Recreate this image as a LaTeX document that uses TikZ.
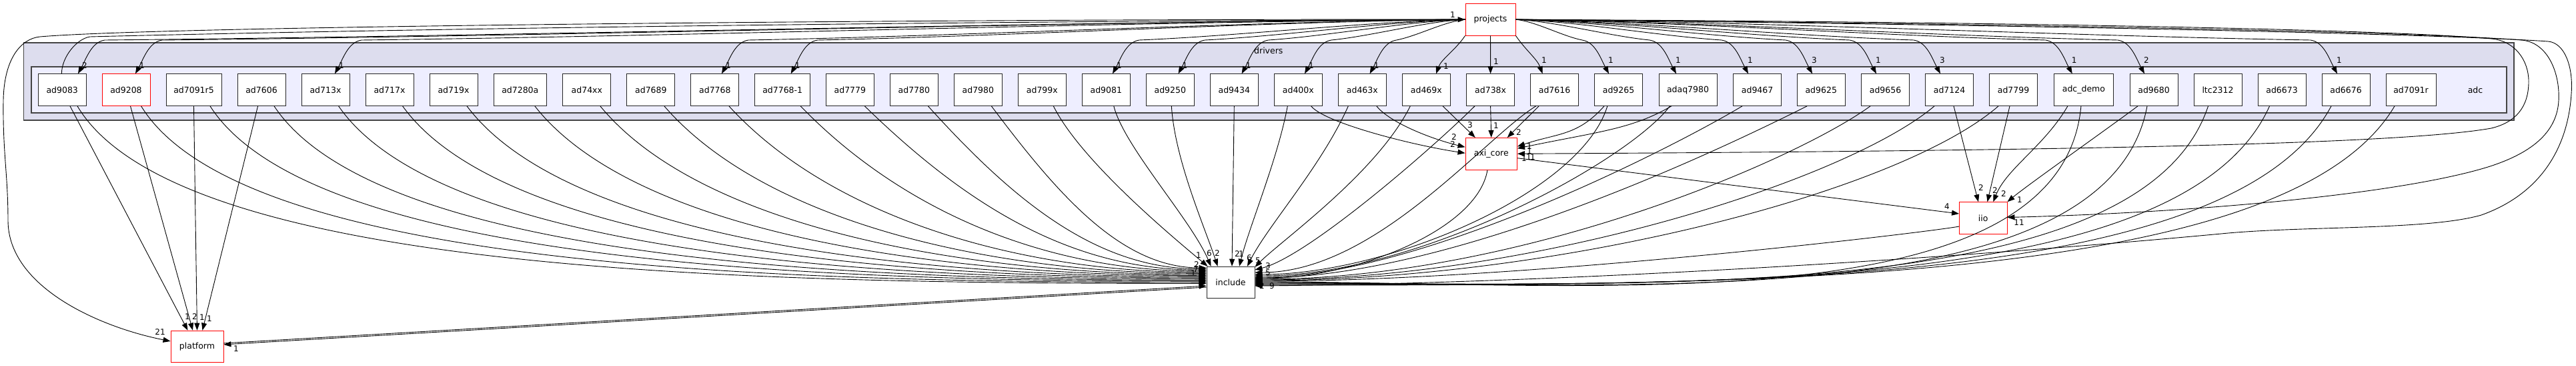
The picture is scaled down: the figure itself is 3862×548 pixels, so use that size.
\documentclass[tikz,border=0pt]{standalone}
\usepackage{fontspec}
\setmainfont{DejaVu Sans}
\usetikzlibrary{arrows.meta}
\definecolor{clouter}{HTML}{DDDDEE}
\definecolor{clinner}{HTML}{EEEEFF}
\definecolor{clborder}{HTML}{444444}
\begin{document}
\begin{tikzpicture}[x=1pt,y=-1pt,
  box/.style={draw=black!85, line width=0.9pt, fill=white, minimum width=72pt, minimum height=47.6pt, inner sep=0pt, font=\fontsize{12.5}{14}\selectfont},
  rbox/.style={box, draw=red},
  dep/.style={draw=black, line width=0.9pt, -{Triangle[length=11pt,width=8pt]}},
  lbl/.style={font=\fontsize{12}{13}\selectfont, inner sep=0pt},
  cltext/.style={font=\fontsize{12.5}{14}\selectfont, inner sep=0pt},
  clusterout/.style={fill=clouter, draw=clborder, line width=1.5pt},
  clusterin/.style={fill=clinner, draw=clborder, line width=1.5pt}]
\useasboundingbox (0,0) rectangle (3862,548);

% clusters
\draw[clusterout] (35.7,64) rectangle (3769,180);
\draw[clusterin] (47,100) rectangle (3758,169);
\node[cltext] (drivers) at (1901.8,75.5) {drivers};
\node[cltext] (adc) at (3711,134.6) {adc};

% adc nodes
\node[box] (ad9083) at (93.25,134.6) {ad9083};
\node[rbox] (ad9208) at (189,134.6) {ad9208};
\node[box,minimum width=83pt] (ad7091r5) at (290.5,134.6) {ad7091r5};
\node[box] (ad7606) at (392,134.6) {ad7606};
\node[box] (ad713x) at (488,134.6) {ad713x};
\node[box] (ad717x) at (584,134.6) {ad717x};
\node[box] (ad719x) at (680,134.6) {ad719x};
\node[box,minimum width=78.4pt] (ad7280a) at (779.8,134.6) {ad7280a};
\node[box] (ad74xx) at (879.85,134.6) {ad74xx};
\node[box] (ad7689) at (975.85,134.6) {ad7689};
\node[box] (ad7768) at (1071.85,134.6) {ad7768};
\node[box,minimum width=83pt] (ad7768m1) at (1173.2,134.6) {ad7768-1};
\node[box] (ad7779) at (1274.35,134.6) {ad7779};
\node[box] (ad7780) at (1370.35,134.6) {ad7780};
\node[box] (ad7980) at (1466.35,134.6) {ad7980};
\node[box] (ad799x) at (1562.35,134.6) {ad799x};
\node[box] (ad9081) at (1658.3,134.6) {ad9081};
\node[box] (ad9250) at (1754.3,134.6) {ad9250};
\node[box] (ad9434) at (1850.3,134.6) {ad9434};
\node[box] (ad400x) at (1946.3,134.6) {ad400x};
\node[box] (ad463x) at (2042.3,134.6) {ad463x};
\node[box] (ad469x) at (2138.3,134.6) {ad469x};
\node[box] (ad738x) at (2234.6,134.6) {ad738x};
\node[box] (ad7616) at (2330.55,134.6) {ad7616};
\node[box] (ad9265) at (2426.55,134.6) {ad9265};
\node[box,minimum width=87pt] (adaq7980) at (2530.5,134.6) {adaq7980};
\node[box] (ad9467) at (2634.6,134.6) {ad9467};
\node[box] (ad9625) at (2730.25,134.6) {ad9625};
\node[box] (ad9656) at (2826.55,134.6) {ad9656};
\node[box] (ad7124) at (2922.55,134.6) {ad7124};
\node[box] (ad7799) at (3018.55,134.6) {ad7799};
\node[box,minimum width=89.75pt] (adcdemo) at (3123.9,134.6) {adc\_demo};
\node[box] (ad9680) at (3229,134.6) {ad9680};
\node[box] (ltc2312) at (3325,134.6) {ltc2312};
\node[box] (ad6673) at (3421,134.6) {ad6673};
\node[box] (ad6676) at (3517,134.6) {ad6676};
\node[box,minimum width=75pt] (ad7091r) at (3614.5,134.6) {ad7091r};

% outside nodes
\node[rbox,minimum width=75pt] (projects) at (2234.5,29.2) {projects};
\node[rbox,minimum width=77.5pt] (axicore) at (2235.75,230.25) {axi\_core};
\node[rbox,minimum width=71.5pt] (iio) at (2973.25,326.5) {iio};
\node[box] (include) at (1845,423) {include};
\node[rbox,minimum width=79pt] (platform) at (295.5,518.9) {platform};

% projects -> adc nodes (left)
\foreach \tg/\of/\ax/\lab in {ad9083/23.75/117/2, ad9208/14/203/1, ad713x/14/502/1, ad7768/10.15/1082/1, ad7768m1/12.5/1185.7/1, ad9081/9.7/1668/1, ad9250/12.2/1766.5/1, ad9434/11.3/1861.6/1, ad400x/9.7/1956/1, ad463x/11.3/2053.6/1}{
  \draw[dep] (projects.west) .. controls +({-0.3*(2157-\ax)},3) and +({0.3*(2157-\ax)},-6) .. (\ax+40,60) .. controls +(-20,3) and +(12,-22) .. ([xshift=\of pt]\tg.north);
  \node[lbl] (lp\tg) at (\ax+10,98) {\lab};
}
% projects -> adc nodes (right)
\foreach \tg/\of/\ax/\lab in {ad9265/-14.55/2412/1, adaq7980/-17.5/2513/1, ad9467/-13.6/2621/1, ad9625/-13.25/2717/3, ad9656/-13.55/2813/1, ad7124/-13.55/2909/3, adcdemo/-17.2/3106.7/1, ad9680/-14/3215/2, ad6676/-13/3504/1}{
  \draw[dep] (projects.east) .. controls +({0.3*(\ax-2312)},3) and +({-0.3*(\ax-2312)},-6) .. (\ax-40,60) .. controls +(20,3) and +(-12,-22) .. ([xshift=\of pt]\tg.north);
  \node[lbl] (lp\tg) at (\ax+3,90) {\lab};
}
\draw[dep] (projects.south west) .. controls +(-15,22) and +(8,-22) .. ([xshift=14.7pt]ad469x.north);
\node[lbl] (lpad469x) at (2168,99) {1};
\draw[dep] (projects.south) -- (ad738x.north);
\node[lbl] (lpad738x) at (2243,92) {1};
\draw[dep] (projects.south east) .. controls +(15,22) and +(-8,-22) .. ([xshift=-18pt]ad7616.north);
\node[lbl] (lpad7616) at (2315,90) {1};

% ad9083 -> projects
\draw[dep] ([xshift=-0.85pt]ad9083.north) .. controls +(0,-25) and +(-20,3) .. (135,55) .. controls +(600,-15) and +(-600,2) .. (projects.west);
\node[lbl] (lprj) at (2178,22) {1};

% projects -> platform
\draw[dep] (projects.west) .. controls (1500,28) and (260,38) .. (60,55) .. controls (30,58) and (6,90) .. (5,150) .. controls (4,230) and (12,260) .. (12,330) .. controls (12,430) and (150,490) .. ([yshift=8pt]platform.west);
\node[lbl] (lpl21) at (240,497) {21};

% projects -> axi_core / iio / include (loops on the right)
\draw[dep] (projects.east) .. controls (2900,32) and (3550,42) .. (3735,58) .. controls (3770,61) and (3791,90) .. (3791,122) .. controls (3791,160) and (3772,183) .. (3735,192) .. controls (3600,216) and (3100,226) .. (axicore.east);
\draw[dep] (projects.east) .. controls (2900,34) and (3600,46) .. (3780,60) .. controls (3820,63) and (3838,110) .. (3836,150) .. controls (3834,195) and (3800,228) .. (3730,250) .. controls (3600,290) and (3300,318) .. ([yshift=1pt]iio.east);
\draw[dep] (projects.east) .. controls (2950,36) and (3650,50) .. (3820,62) .. controls (3845,64) and (3858,100) .. (3855,140) .. controls (3850,220) and (3810,290) .. (3720,322) .. controls (3640,345) and (3450,338) .. (3330,350) .. controls (2900,390) and (2300,425) .. ([yshift=-5pt]include.east);

% left adc nodes -> include
\foreach \src/\of/\ys/\cx/\cy/\dx in {ad9083/22.75/-1.5/150/252/-677, ad9208/22.6/0.2/150/244/-639, ad7091r5/24.5/1.9/150/234/-598, ad7606/19/3.5/150/226/-559, ad713x/19.6/5.2/150/217/-521, ad717x/19.6/6.9/150/208/-482, ad719x/20/8.6/150/200/-444, ad7280a/22/10.3/150/191/-403, ad74xx/20/11.9/150/182/-364, ad7689/20/13.6/150/173/-325, ad7768/21/15.3/150/164/-286, ad7768m1/27/17/150/155/-244, ad7779/22/18.7/150/146/-205, ad7780/21/20.3/125/138/-167, ad7980/20/22/97/129/-129}{
  \draw[dep] ([xshift=\of pt]\src.south) .. controls +(\cx,\cy) and +(\dx,0) .. ([yshift=\ys pt]include.west);
}
% near nodes -> include top
\draw[dep] ([xshift=17pt]ad799x.south) .. controls +(40,80) and +(-60,-50) .. ([xshift=2pt]include.north west);
\draw[dep] ([xshift=11.5pt]ad9081.south) .. controls +(15,60) and +(-30,-70) .. ([xshift=7pt]include.north west);
\draw[dep] ([xshift=2pt]ad9250.south) .. controls +(5,80) and +(-20,-60) .. ([xshift=17pt]include.north west);
\draw[dep] (ad9434.south) -- ([xshift=2pt]include.north);
\draw[dep] ([xshift=-16pt]ad400x.south) .. controls +(-15,80) and +(15,-60) .. ([xshift=13pt]include.north);
\draw[dep] ([xshift=-21pt]ad463x.south) .. controls +(-40,90) and +(30,-60) .. ([xshift=25pt]include.north);
\draw[dep] ([xshift=-24pt]ad469x.south) .. controls +(-50,100) and +(40,-40) .. ([yshift=-1pt]include.north east);
\draw[dep] ([xshift=-23.6pt]ad738x.south) .. controls +(-60,60) and +(80,-20) .. ([yshift=19pt]include.east);
% right adc nodes -> include
\foreach \src/\of/\ys/\cx/\cy/\dx in {ad7616/-27.9/15/-80/50/180, ad9265/-16.75/12/-40/130/200, adaq7980/-27/10/-60/80/250, ad9467/-22.6/8/-100/60/250, ad9625/-21/7/-120/60/300, ad9656/-22.5/5/-110/80/400, ad7124/-22.5/4/-130/110/420, ad7799/-22.5/3/-150/130/450, adcdemo/-4/1/-30/330/500, ad9680/-10/0/-60/320/550, ltc2312/-14.5/-1/-100/300/600, ad6673/-18.5/-2/-130/290/650, ad6676/-22/-3/-150/280/700, ad7091r/-24.5/-4/-160/270/750}{
  \draw[dep] ([xshift=\of pt]\src.south) .. controls +(\cx,\cy) and +(\dx,0) .. ([yshift=\ys pt]include.east);
}
\draw[dep] ([xshift=-5.75pt]axicore.south) .. controls +(-15,90) and +(150,0) .. ([yshift=6pt]include.east);
\draw[dep] ([yshift=-12.5pt]iio.west) .. controls +(-40,8) and +(400,0) .. ([yshift=2pt]include.east);

% include labels
\node[lbl] (li1) at (1797,382) {1};
\node[lbl] (li2) at (1813,379) {6};
\node[lbl] (li3) at (1825,379) {2};
\node[lbl] (li4) at (1855,380) {2};
\node[lbl] (li5) at (1861,380) {1};
\node[lbl] (li6) at (1873,386) {6};
\node[lbl] (li7) at (1886,390) {5};
\node[lbl] (li8) at (1901,398) {3};
\node[lbl] (li9) at (1901,408) {5};
\node[lbl] (li10) at (1892,428) {2};
\node[lbl] (li11) at (1907,428) {9};
\node[lbl] (li12) at (1794,396) {2};
\node[lbl] (li13) at (1793,403) {7};
\node[lbl] (li14) at (1789,409) {1};

% -> axi_core
\draw[dep] ([xshift=19.3pt]ad400x.south) .. controls +(20,25) and +(-80,-12) .. ([yshift=1pt]axicore.west);
\draw[dep] ([xshift=21.5pt]ad463x.south) .. controls +(20,25) and +(-50,-12) .. ([yshift=10pt]axicore.west);
\draw[dep] ([xshift=24.7pt]ad469x.south) -- ([xshift=-24pt]axicore.north);
\draw[dep] (ad738x.south) -- (axicore.north);
\draw[dep] ([xshift=-23.5pt]ad7616.south) -- ([xshift=24pt]axicore.north);
\draw[dep] ([xshift=-21.5pt]ad9265.south) .. controls +(-40,45) and +(60,-20) .. ([yshift=11pt]axicore.east);
\draw[dep] ([xshift=-24.7pt]adaq7980.south) .. controls +(-60,35) and +(120,-25) .. ([yshift=8pt]axicore.east);
\node[lbl] (la1) at (2180,205) {2};
\node[lbl] (la2) at (2178,216) {2};
\node[lbl] (la3) at (2204,187) {3};
\node[lbl] (la4) at (2243,188) {1};
\node[lbl] (la5) at (2277,198) {2};
\node[lbl] (la6) at (2293,219) {1};
\node[lbl] (la7) at (2293,226) {1};
\node[lbl] (la8) at (2285,237) {1};
\node[lbl] (la9) at (2292,235) {1};
\node[lbl] (la10) at (2298,235) {1};

% -> iio
\draw[dep] ([xshift=6.45pt]ad7124.south) -- ([xshift=-7.25pt]iio.north);
\draw[dep] ([xshift=-5.55pt]ad7799.south) -- ([xshift=6.25pt]iio.north);
\draw[dep] ([xshift=-24pt]adcdemo.south) .. controls +(-35,60) and +(20,-50) .. ([xshift=15pt]iio.north);
\draw[dep] ([xshift=-24pt]ad9680.south) .. controls +(-40,30) and +(30,-25) .. (iio.north east);
\draw[dep] ([yshift=-6.5pt]axicore.east) -- ([yshift=6.5pt]iio.west);
\node[lbl] (lo1) at (2970,281) {2};
\node[lbl] (lo2) at (2991,285) {2};
\node[lbl] (lo3) at (3004,290) {2};
\node[lbl] (lo4) at (3028,299) {1};
\node[lbl] (lo5) at (2919,309) {4};
\node[lbl] (lo6) at (3027,333) {11};

% -> platform
\draw[dep] ([xshift=11.75pt]ad9083.south) -- ([xshift=-14pt]platform.north);
\draw[dep] ([xshift=6.5pt]ad9208.south) -- ([xshift=-6.5pt]platform.north);
\draw[dep] (ad7091r5.south) -- (platform.north);
\draw[dep] ([xshift=-5.4pt]ad7606.south) -- ([xshift=8pt]platform.north);
\draw[dep] ([yshift=-7pt]include.west) -- ([yshift=3pt]platform.east);
\draw[dep] ([yshift=5pt]platform.east) -- ([yshift=-5pt]include.west);
\node[lbl] (lf1) at (281,474) {1};
\node[lbl] (lf2) at (292,474) {2};
\node[lbl] (lf3) at (303,475) {1};
\node[lbl] (lf4) at (314,477) {1};
\node[lbl] (lf5) at (354,522) {1};
\end{tikzpicture}
\end{document}
